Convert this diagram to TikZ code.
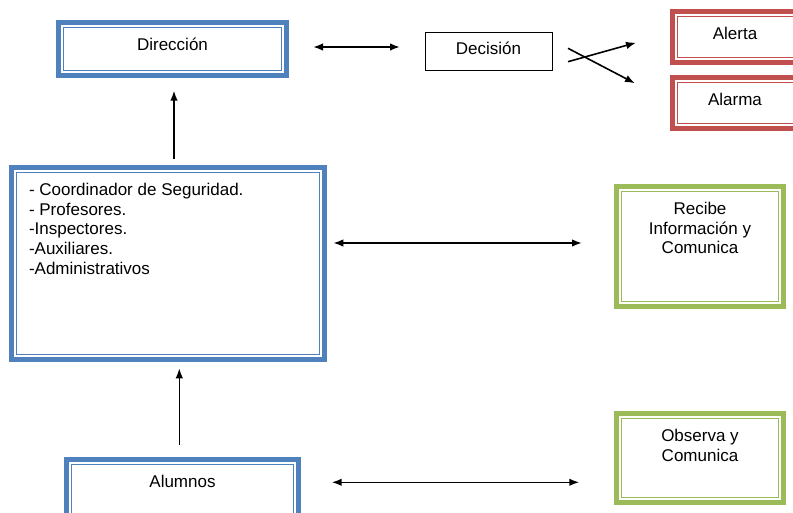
\documentclass[tikz,border=0pt]{standalone}
\usepackage{fontspec}
\setmainfont{Liberation Sans}
\usepackage{tikz}
\usetikzlibrary{arrows.meta}
\usetikzlibrary{positioning,calc}

\definecolor{azul}{HTML}{4F81BD}
\definecolor{rojo}{HTML}{C0504D}
\definecolor{verde}{HTML}{9BBB59}

% text of a box, set from its top as in the original text boxes
\newcommand{\textocaja}[4][28pt]{\parbox[c][#3][t]{#2}{\centering\rule{0pt}{#1}#4}}

\tikzset{
	caja/.style={draw=#1, line width=5pt, fill=white, inner sep=0pt, outer sep=0pt,
		font=\fontsize{17pt}{19.7pt}\selectfont},
	simple/.style={draw=black, line width=1pt, fill=white, inner sep=0pt, outer sep=0pt,
		font=\fontsize{17pt}{19.7pt}\selectfont},
	flecha/.style={line width=1.6pt, -{Latex[length=10pt,width=7.5pt]}},
	dflecha/.style={line width=1.6pt, {Latex[length=10pt,width=7.5pt]}-{Latex[length=10pt,width=7.5pt]}}
}

\begin{document}
\begin{tikzpicture}[x=1pt, y=1pt]
\useasboundingbox (0,0) rectangle (793,512);

% Boxes of the plan, all with a thick outer and a thin inner border.
\node[caja=azul] (dir) at (172.5,463) {\textocaja{228pt}{53pt}{Dirección}};
\node[simple] (decision) at (488.5,460) {\textocaja[21.5pt]{127pt}{38pt}{Decisión}};
% the two red boxes run past the right edge
\node[caja=rojo] (alerta) at (740,475) {\textocaja{135pt}{51pt}{\hspace*{-10pt}Alerta}};
\node[caja=rojo] (alarma) at (740,409) {\textocaja{135pt}{51pt}{\hspace*{-10pt}Alarma}};
\node[caja=azul] (coord) at (168,248.5) {\parbox[c][192pt][t]{313pt}{\raggedright\leftskip=17.5pt
	\rule{0pt}{28pt}- Coordinador de Seguridad.\\
	- Profesores.\\
	-Inspectores.\\
	-Auxiliares.\\
	-Administrativos}};
\node[caja=verde] (recibe) at (700,265.5) {\textocaja{167pt}{120pt}{Recibe\\ Información y\\ Comunica}};
\node[caja=verde] (observa) at (700,54) {\textocaja{167pt}{89pt}{Observa y\\ Comunica}};
\node[caja=azul] (alumnos) at (182.5,18.5) {\textocaja{232pt}{68pt}{Alumnos}};

% Thin inner line of every framed box.
\foreach \n/\c in {dir/azul, coord/azul, alumnos/azul, alerta/rojo, alarma/rojo, recibe/verde, observa/verde}
	\draw[draw=\c, line width=1.2pt] ([shift={(4.8pt,-4.8pt)}]\n.north west)
		rectangle ([shift={(-4.8pt,4.8pt)}]\n.south east);

% Connectors
\draw[dflecha, shorten <=26.5pt, shorten >=25pt] ([yshift=2pt]dir.east) -- ([yshift=2pt]dir.east -| decision.west);
\draw[flecha] ([xshift=16pt,yshift=-9.7pt]decision.east) -- ([xshift=-36.5pt,yshift=-5.7pt]alerta.west);
\draw[flecha] ([xshift=16pt,yshift=3.7pt]decision.east) -- ([xshift=-37.5pt,yshift=19.7pt]alarma.west);
\draw[flecha, shorten <=8.5pt, shorten >=15.2pt] ([xshift=6pt]coord.north) -- ([xshift=6pt]coord.north |- dir.south);
\draw[dflecha, shorten <=8.8pt, shorten >=34.5pt] ([yshift=20.5pt]coord.east) -- ([yshift=20.5pt]coord.east -| recibe.west);
\draw[flecha, shorten <=14.5pt, shorten >=8.8pt] ([xshift=-3.2pt]alumnos.north) -- ([xshift=-3.2pt]alumnos.north |- coord.south);
\draw[dflecha, shorten <=33.2pt, shorten >=37.2pt] ([yshift=11.2pt]alumnos.east) -- ([yshift=11.2pt]alumnos.east -| observa.west);
\end{tikzpicture}
\end{document}
